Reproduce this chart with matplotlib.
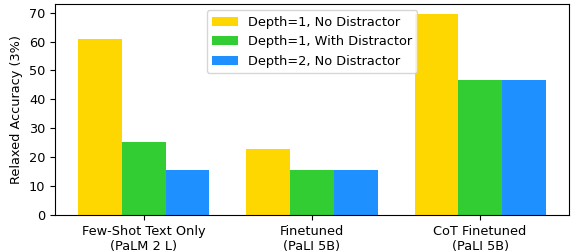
import numpy as np
import matplotlib.pyplot as plt

models = ['Few-Shot Text Only\n(PaLM 2 L)', 'Finetuned\n(PaLI 5B)', 'CoT Finetuned\n(PaLI 5B)']
d1_no_distr = [60.8, 22.8, 69.6]
d1_with_distr = [25.3, 15.6, 46.7]
d2_no_distr = [15.6, 15.6, 46.7]
yticks = [0, 10, 20, 30, 40, 50, 60, 70]

series = [
    ('Depth=1, No Distractor', d1_no_distr, 'gold'),
    ('Depth=1, With Distractor', d1_with_distr, 'limegreen'),
    ('Depth=2, No Distractor', d2_no_distr, 'dodgerblue'),
]

plt.rcParams['font.size'] = 9.3

fig, ax = plt.subplots(figsize=(5.73, 2.52), dpi=100)
x = np.arange(len(models))
width = 0.26
for i, (label, vals, color) in enumerate(series):
    ax.bar(x + (i - 1) * width, vals, width, label=label, color=color)

ax.set_xticks(x)
ax.set_xticklabels(models)
ax.set_yticks(yticks)
ax.set_ylim(0, 73)
ax.set_ylabel('Relaxed Accuracy (3%)')
ax.legend(loc='upper center')

plt.subplots_adjust(left=0.096, right=0.993, top=0.984, bottom=0.147)
plt.savefig('out.png')
